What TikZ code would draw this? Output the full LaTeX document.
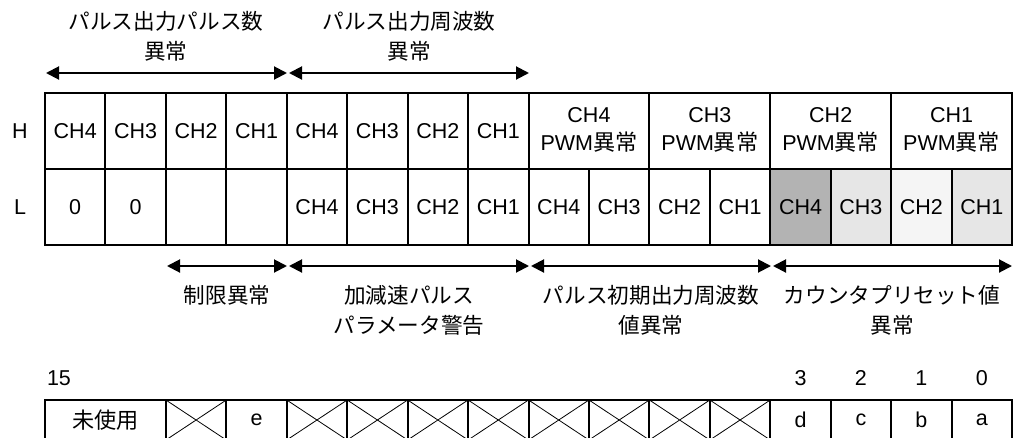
\documentclass[tikz,border=0pt]{standalone}
\usepackage{fontspec}
\setmainfont{Liberation Sans}
\newfontfamily\jp[Scale=1.03]{Noto Sans CJK JP}
\usetikzlibrary{arrows.meta,positioning,calc}
\definecolor{markdark}{HTML}{B3B3B3}
\definecolor{marklight}{HTML}{E6E6E6}
\definecolor{markpale}{HTML}{F5F5F5}

\begin{document}
\begin{tikzpicture}[x=1pt,y=-1pt,
  cell/.style={draw,line width=2pt,minimum width=60.44pt,minimum height=76pt,inner sep=0pt,
    align=center,font=\fontsize{21.5}{28}\selectfont},
  wide/.style={cell,minimum width=120.88pt},
  bit/.style={cell,minimum height=40pt},
  bitwide/.style={bit,minimum width=120.88pt},
  xbit/.style={bit,path picture={\draw[line width=0.8pt]
    (path picture bounding box.north west) -- (path picture bounding box.south east)
    (path picture bounding box.north east) -- (path picture bounding box.south west);}},
  lbl/.style={align=center,inner sep=0pt,font=\fontsize{21}{30}\selectfont\jp},
  num/.style={inner sep=0pt,font=\fontsize{21.5}{27}\selectfont},
  span/.style={{Triangle[length=13pt,width=13pt]}-{Triangle[length=13pt,width=13pt]},line width=2pt}]

\useasboundingbox (0,0) rectangle (1013,437);

% row names
\node[num] (rowH) at (20,131) {H};
\node[num] (rowL) at (20,207) {L};

% upper byte
\foreach \t [count=\i from 0] in {CH4,CH3,CH2,CH1,CH4,CH3,CH2,CH1}
  \node[cell] (h\i) at ({75.22+60.44*\i},131) {\t};
\foreach \t [count=\i from 0] in {CH4,CH3,CH2,CH1}
  \node[wide] (pwm\i) at ({45+60.44*(9+2*\i)},131) {\t\\PWM{\jp 異常}\rule[-4pt]{0pt}{4pt}};

% lower byte
\foreach \t [count=\i from 0] in {0,0,{},{},CH4,CH3,CH2,CH1,CH4,CH3,CH2,CH1}
  \node[cell] (l\i) at ({75.22+60.44*\i},207) {\t};
\node[cell,fill=markdark]  (l12) at (800.5,207) {CH4};
\node[cell,fill=marklight] (l13) at (860.9,207) {CH3};
\node[cell,fill=markpale]  (l14) at (921.4,207) {CH2};
\node[cell,fill=marklight] (l15) at (981.8,207) {CH1};

% range arrows above
\coordinate (t0) at (46,73);
\coordinate (t1) at (288,73);
\coordinate (t2) at (529,73);
\draw[span] (t0) -- ([xshift=-1pt]t1);
\draw[span] ([xshift=1pt]t1) -- (t2);
\node[lbl] (pulsecnt) at (166,36) {パルス出力パルス数\\異常};
\node[lbl] (pulsefrq) at (409,36) {パルス出力周波数\\異常};

% range arrows below
\coordinate (b0) at (167,266);
\coordinate (b1) at (288,266);
\coordinate (b2) at (530,266);
\coordinate (b3) at (772,266);
\coordinate (b4) at (1012,266);
\draw[span] (b0) -- ([xshift=-1pt]b1);
\draw[span] ([xshift=1pt]b1) -- ([xshift=-1pt]b2);
\draw[span] ([xshift=1pt]b2) -- ([xshift=-1pt]b3);
\draw[span] ([xshift=1pt]b3) -- (b4);
\node[lbl] (limit) at (227,295) {制限異常};
\node[lbl] (accel) at (409,310) {加減速パルス\\パラメータ警告};
\node[lbl] (initf) at (651,310) {パルス初期出力周波数\\値異常};
\node[lbl] (preset) at (892,310) {カウンタプリセット値\\異常};

% bit numbers
\node[num] (n15) at (59,378) {15};
\node[num] (n3) at (800.5,378) {3};
\node[num] (n2) at (860.9,378) {2};
\node[num] (n1) at (921.4,378) {1};
\node[num] (n0) at (981.8,378) {0};

% bit row
\node[bitwide] (unused) at (105.44,420) {\jp 未使用};
\node[xbit] (x13) at (196.1,420) {};
\node[bit] (be) at (256.5,420) {e};
\foreach \i in {4,...,11}
  \node[xbit] (x\i) at ({75.22+60.44*\i},420) {};
\node[bit] (bd) at (800.5,420) {d};
\node[bit] (bc) at (860.9,420) {c};
\node[bit] (bb) at (921.4,420) {b};
\node[bit] (ba) at (981.8,420) {a};
\end{tikzpicture}
\end{document}
